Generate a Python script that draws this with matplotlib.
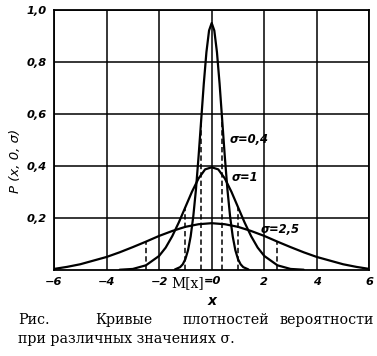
import matplotlib
matplotlib.use("Agg")
import matplotlib.pyplot as plt
from matplotlib.transforms import blended_transform_factory

# ---- data ----
x_s04 = [-1.4, -1.2, -1.1, -1.0, -0.9, -0.8, -0.7, -0.6, -0.5, -0.4, -0.3, -0.2, -0.1, 0.0,
         0.1, 0.2, 0.3, 0.4, 0.5, 0.6, 0.7, 0.8, 0.9, 1.0, 1.1, 1.2, 1.4]
y_s04 = [0.002, 0.011, 0.022, 0.042, 0.076, 0.129, 0.206, 0.308, 0.435, 0.576, 0.717, 0.838, 0.921, 0.95,
         0.921, 0.838, 0.717, 0.576, 0.435, 0.308, 0.206, 0.129, 0.076, 0.042, 0.022, 0.011, 0.002]

x_s1 = [-3.5, -3.0, -2.5, -2.0, -1.75, -1.5, -1.25, -1.0, -0.75, -0.5, -0.25, 0.0,
        0.25, 0.5, 0.75, 1.0, 1.25, 1.5, 1.75, 2.0, 2.5, 3.0, 3.5]
y_s1 = [0.001, 0.004, 0.018, 0.054, 0.086, 0.130, 0.183, 0.242, 0.301, 0.352, 0.387, 0.395,
        0.387, 0.352, 0.301, 0.242, 0.183, 0.130, 0.086, 0.054, 0.018, 0.004, 0.001]

x_s25 = [-6.0, -5.5, -5.0, -4.5, -4.0, -3.5, -3.0, -2.5, -2.0, -1.5, -1.0, -0.5, 0.0,
         0.5, 1.0, 1.5, 2.0, 2.5, 3.0, 3.5, 4.0, 4.5, 5.0, 5.5, 6.0]
y_s25 = [0.004, 0.012, 0.022, 0.036, 0.050, 0.068, 0.088, 0.109, 0.131, 0.150, 0.166, 0.176, 0.18,
         0.176, 0.166, 0.150, 0.131, 0.109, 0.088, 0.068, 0.050, 0.036, 0.022, 0.012, 0.004]

dash_x = [-2.5, -1.0, -0.4, 0.4, 1.0, 2.5]
dash_top = [0.109, 0.242, 0.576, 0.576, 0.242, 0.109]

xticks = [-6, -4, -2, 0, 2, 4, 6]
xtick_labels = ["−6", "−4", "−2", "", "2", "4", "6"]
yticks = [0.2, 0.4, 0.6, 0.8, 1.0]
ytick_labels = ["0,2", "0,4", "0,6", "0,8", "1,0"]

curve_labels = ["σ=0,4", "σ=1", "σ=2,5"]
label_pos = [(0.68, 0.50), (0.75, 0.355), (1.85, 0.155)]

# ---- figure ----
fig = plt.figure(figsize=(3.77, 3.56), dpi=100)
ax = fig.add_axes([0.143, 0.2416, 0.837, 0.7303])

ax.set_xlim(-6, 6)
ax.set_ylim(0, 1.0)

ax.set_xticks(xticks)
ax.set_yticks(yticks)
tick_font = dict(family="DejaVu Sans", style="italic", weight="bold", size=8.2)
ax.set_xticklabels(xtick_labels, **tick_font)
ax.set_yticklabels(ytick_labels, **tick_font)
ax.tick_params(length=0, pad=5)

ax.grid(True, color="black", linewidth=1.1)
ax.set_axisbelow(True)
for sp in ax.spines.values():
    sp.set_linewidth(1.3)
    sp.set_color("black")

for xs, ys in [(x_s04, y_s04), (x_s1, y_s1), (x_s25, y_s25)]:
    ax.plot(xs, ys, color="black", linewidth=1.6, solid_capstyle="round")

ax.vlines(dash_x, 0, dash_top, colors="black", linewidth=1.1, linestyles=(0, (3.5, 2)))

for txt, (px, py) in zip(curve_labels, label_pos):
    ax.text(px, py, txt, fontsize=8.3, family="DejaVu Sans", style="italic", weight="bold",
            ha="left", va="center")

# centre tick label "M[x]=0"
tr = blended_transform_factory(ax.transData, ax.transAxes)
ax.text(-0.3, -0.022, "M[x]", transform=tr, ha="right", va="top",
        family="DejaVu Serif", fontsize=10)
ax.text(-0.3, -0.022, "=0", transform=tr, ha="left", va="top", **tick_font)

ax.set_xlabel("x", fontsize=10, family="DejaVu Sans", style="italic", weight="bold", labelpad=5)
ax.set_ylabel("P (x, 0, σ)", fontsize=9.5, family="DejaVu Sans", style="italic")
ax.yaxis.set_label_coords(-0.10, 0.42)

# caption
cap = dict(family="DejaVu Serif", fontsize=10.3, va="center")
fig.text(18 / 377, 1 - 320 / 356, "Рис.", ha="left", **cap)
fig.text(95 / 377, 1 - 320 / 356, "Кривые", ha="left", **cap)
fig.text(183 / 377, 1 - 320 / 356, "плотностей", ha="left", **cap)
fig.text(374 / 377, 1 - 320 / 356, "вероятности", ha="right", **cap)
fig.text(18 / 377, 1 - 339 / 356, "при различных значениях σ.", ha="left", **cap)

fig.savefig("out.png", dpi=100)
